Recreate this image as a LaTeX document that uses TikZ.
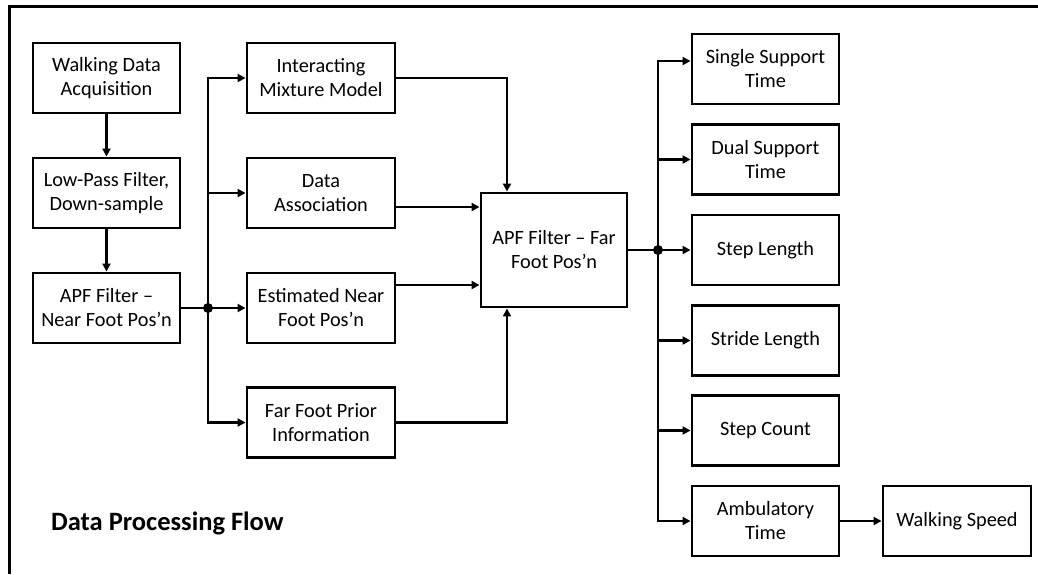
\documentclass[tikz,border=0pt]{standalone}
\usepackage{fontspec}
\setmainfont{Carlito}
\usetikzlibrary{arrows.meta}
\begin{document}
\begin{tikzpicture}[x=1pt,y=-1pt,
  box/.style={draw, line width=2.9pt, minimum height=70pt, minimum width=147pt, align=center, inner sep=2pt, font=\fontsize{20.3}{24}\selectfont},
  conn/.style={line width=2.5pt},
  arr/.style={conn, -{Triangle[length=8pt,width=8pt]}},
  dot/.style={circle, fill, inner sep=0pt, minimum size=10pt}]
\useasboundingbox (0,0) rectangle (1038,574);
\coordinate (fr1) at (9,574);
\coordinate (fr2) at (9,6);
\coordinate (fr3) at (1038,6);
\draw[line width=3pt] (fr1) -- (fr2) -- (fr3);
% column 1
\node[box] (wda) at (106.5,78) {Walking Data\\Acquisition};
\node[box] (lpf) at (106.5,193) {Low-Pass Filter,\\Down-sample};
\node[box] (apfn) at (106.5,308) {APF Filter –\\Near Foot Pos’n};
% column 2
\node[box, minimum width=148pt] (imm) at (321,78) {Interacting\\Mixture Model};
\node[box, minimum width=148pt] (da) at (321,193) {Data\\Association};
\node[box, minimum width=148pt] (enf) at (321,308) {Estimated Near\\Foot Pos’n};
\node[box, minimum width=148pt] (ffp) at (321,422.5) {Far Foot Prior\\Information};
% centre
\node[box, minimum width=146pt, minimum height=114pt] (apff) at (554,250) {APF Filter – Far\\Foot Pos’n};
% column 3
\node[box] (sst) at (765.5,69) {Single Support\\Time};
\node[box] (dst) at (765.5,159.5) {Dual Support\\Time};
\node[box] (sl) at (765.5,250) {Step Length};
\node[box] (strl) at (765.5,340.5) {Stride Length};
\node[box] (sc) at (765.5,430.5) {Step Count};
\node[box] (amb) at (765.5,521) {Ambulatory\\Time};
\node[box, minimum width=148pt] (ws) at (957,521) {Walking Speed};
% title
\node[anchor=base west, font=\fontsize{26.5}{30}\selectfont\bfseries, inner sep=0pt] (title) at (51,530) {Data Processing Flow};
% connectors column 1
\draw[arr] (wda) -- (lpf);
\draw[arr] (lpf) -- (apfn);
\node[dot] (j1) at (208,308) {};
\draw[conn] (apfn) -- (j1.center);
\draw[arr] (j1.center) -- (enf);
\draw[arr] (j1.center) |- (imm);
\draw[arr] (j1.center) |- (da);
\draw[arr] (j1.center) |- (ffp);
% into centre
\draw[arr] (imm.east) -| ([xshift=-47pt]apff.north);
\draw[arr] ([yshift=-14pt]da.east) -- ([yshift=-14pt]da.east -| apff.west);
\draw[arr] ([yshift=23pt]enf.east) -- ([yshift=23pt]enf.east -| apff.west);
\draw[arr] (ffp.east) -| ([xshift=-47pt]apff.south);
% outputs
\node[dot] (j2) at (658,250) {};
\draw[conn] (apff) -- (j2.center);
\draw[arr] (j2.center) -- (sl);
\draw[arr] (j2.center) |- ([yshift=8pt]sst.west);
\draw[arr] (j2.center) |- (dst);
\draw[arr] (j2.center) |- (strl);
\draw[arr] (j2.center) |- (sc);
\draw[arr] (j2.center) |- (amb);
\draw[arr] (amb) -- (ws);
\end{tikzpicture}
\end{document}
